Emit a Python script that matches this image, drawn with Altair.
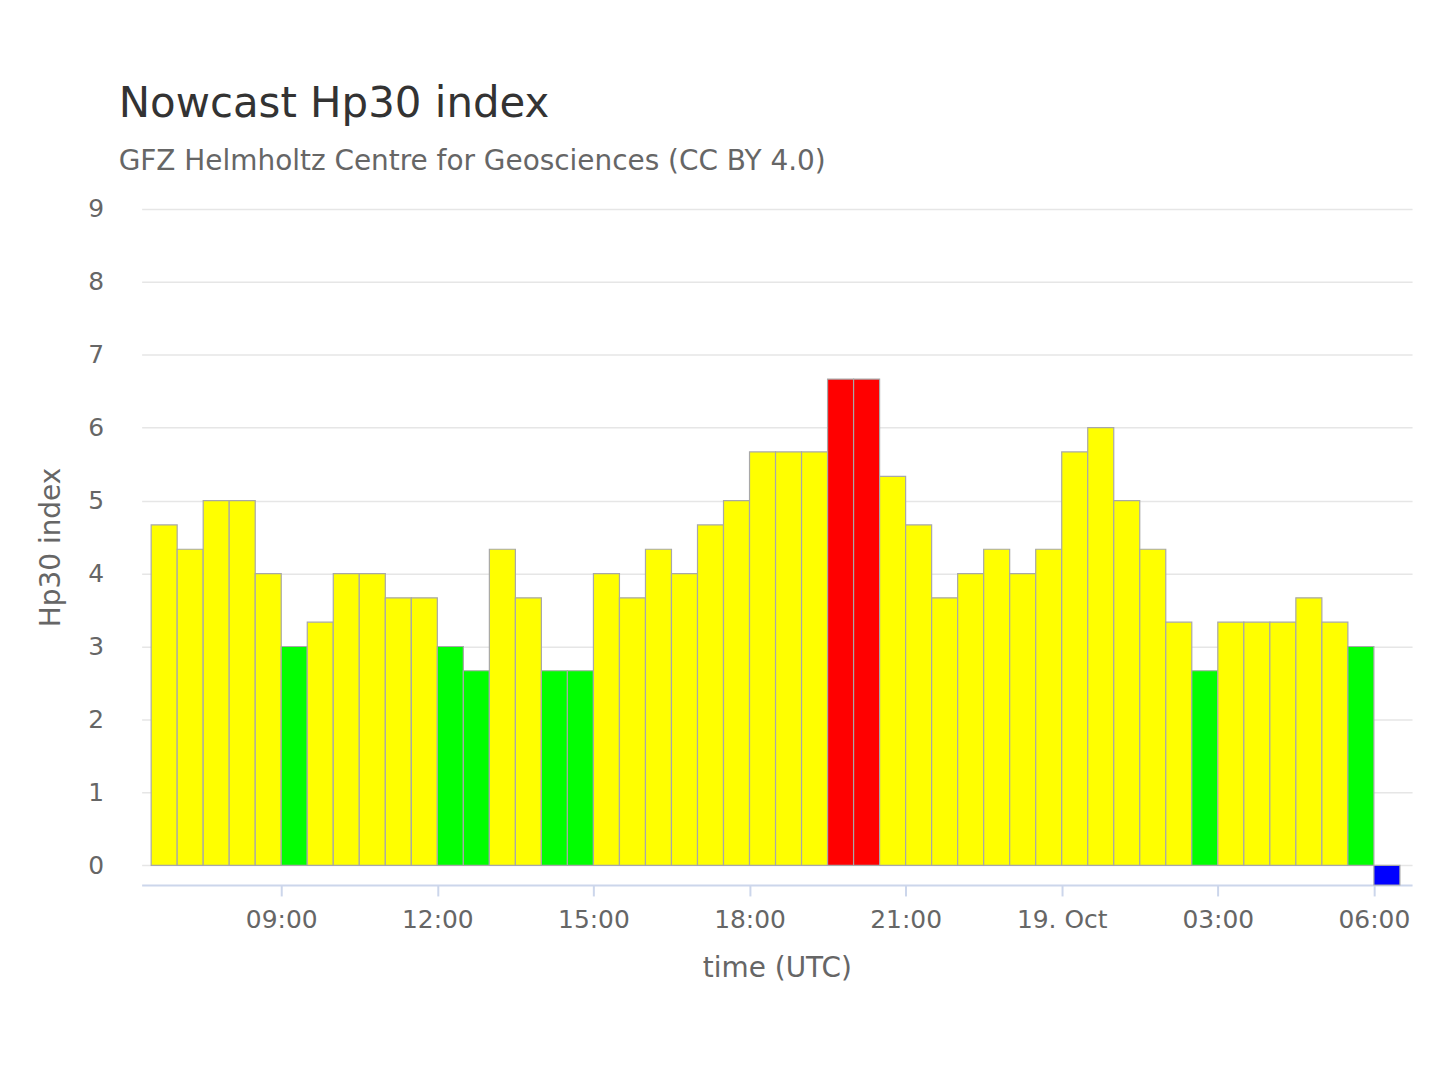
import altair as alt
import pandas as pd

# ---- data ----
start_time = "2024-10-18T06:30:00Z"      # first 30-min interval start (UTC)
hp30_values = [
    4.667, 4.333, 5.0, 5.0, 4.0, 3.0, 3.333, 4.0, 4.0, 3.667,
    3.667, 3.0, 2.667, 4.333, 3.667, 2.667, 2.667, 4.0, 3.667, 4.333,
    4.0, 4.667, 5.0, 5.667, 5.667, 5.667, 6.667, 6.667, 5.333, 4.667,
    3.667, 4.0, 4.333, 4.0, 4.333, 5.667, 6.0, 5.0, 4.333, 3.333,
    2.667, 3.333, 3.333, 3.333, 3.667, 3.333, 3.0, -0.27,
]
level_names = ["quiet", "active", "storm", "nowcast"]
level_colors = ["#00ff00", "#ffff00", "#ff0000", "#0000ff"]
y_ticks = [0, 1, 2, 3, 4, 5, 6, 7, 8, 9]
# x ticks (day of October, hour UTC) and their labels
x_tick_days = [18, 18, 18, 18, 18, 19, 19, 19]
x_tick_hours = [9, 12, 15, 18, 21, 0, 3, 6]
x_tick_labels = ["09:00", "12:00", "15:00", "18:00", "21:00", "19. Oct", "03:00", "06:00"]

x_domain = [
    alt.DateTime(year=2024, month=10, date=18, hours=6, minutes=19, utc=True),
    alt.DateTime(year=2024, month=10, date=19, hours=6, minutes=44, utc=True),
]
x_tick_values = [
    alt.DateTime(year=2024, month=10, date=d, hours=h, utc=True)
    for d, h in zip(x_tick_days, x_tick_hours)
]
label_expr = "''"
for h, lab in reversed(list(zip(x_tick_hours, x_tick_labels))):
    label_expr = f"(utchours(datum.value) == {h} ? '{lab}' : {label_expr})"


def level(v):
    if v < 0:
        return "nowcast"
    if v <= 3.0:
        return "quiet"
    if v < 6.5:
        return "active"
    return "storm"


starts = pd.date_range(start_time, periods=len(hp30_values), freq="30min")
df = pd.DataFrame({
    "start": starts.strftime("%Y-%m-%dT%H:%M:%SZ"),
    "end": (starts + pd.Timedelta(minutes=30)).strftime("%Y-%m-%dT%H:%M:%SZ"),
    "hp30": hp30_values,
    "level": [level(v) for v in hp30_values],
})

FONT = "DejaVu Sans"

x_enc = alt.X(
    "start:T",
    scale=alt.Scale(type="utc", domain=x_domain, nice=False),
    axis=alt.Axis(
        title="time (UTC)",
        values=x_tick_values,
        labelExpr=label_expr,
        grid=False,
        domainColor="#ccd6eb",
        domainWidth=2,
        tickColor="#ccd6eb",
        tickWidth=2,
        tickSize=11,
        labelPadding=12,
        labelFont=FONT,
        labelFontSize=25,
        labelColor="#666666",
        labelFlush=False,
        titleFont=FONT,
        titleFontSize=28,
        titleFontWeight="normal",
        titleColor="#666666",
        titlePadding=22,
    ),
)
y_enc = alt.Y(
    "hp30:Q",
    scale=alt.Scale(domain=[-0.27, 9], nice=False, zero=False),
    axis=alt.Axis(
        title="Hp30 index",
        values=y_ticks,
        format="d",
        domain=False,
        ticks=False,
        grid=True,
        gridColor="#e6e6e6",
        gridWidth=1.5,
        labelPadding=38,
        labelFont=FONT,
        labelFontSize=25,
        labelColor="#666666",
        titleFont=FONT,
        titleFontSize=28,
        titleFontWeight="normal",
        titleColor="#666666",
        titlePadding=22,
    ),
)

bars = alt.Chart(df).mark_bar(
    stroke="#a8a8a8", strokeWidth=1.2
).encode(
    x=x_enc,
    x2="end:T",
    y=y_enc,
    y2=alt.datum(0),
    color=alt.Color(
        "level:N",
        scale=alt.Scale(domain=level_names, range=level_colors),
        legend=None,
    ),
)

chart = (
    bars
    .properties(
        width=1274,
        height=678,
        autosize=alt.AutoSizeParams(type="none"),
        padding={"left": 134, "top": 200, "right": 20, "bottom": 150},
        background="white",
        title=alt.TitleParams(
            text="Nowcast Hp30 index",
            subtitle="GFZ Helmholtz Centre for Geosciences (CC BY 4.0)",
            anchor="start",
            frame="group",
            dx=-23,
            font=FONT,
            fontSize=42,
            fontWeight="normal",
            color="#333333",
            subtitleFont=FONT,
            subtitleFontSize=28,
            subtitleColor="#666666",
            subtitlePadding=22,
            offset=20,
        ),
    )
    .configure_view(strokeWidth=0)
)

chart.save("out.html", embed_options={"renderer": "svg", "actions": False})
